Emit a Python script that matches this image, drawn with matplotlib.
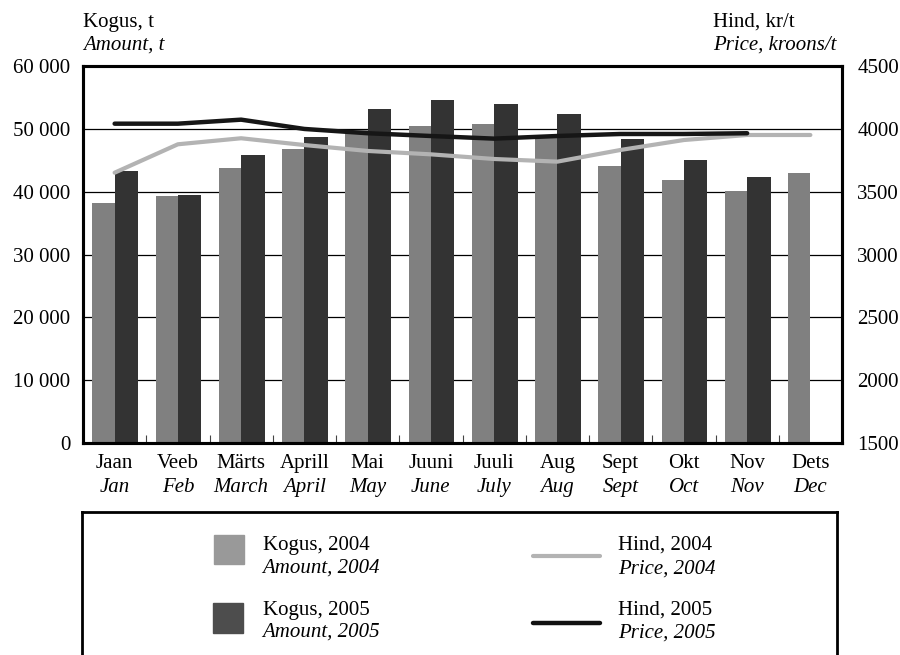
import matplotlib
matplotlib.use("Agg")
import matplotlib.pyplot as plt
import numpy as np
from matplotlib.ticker import FuncFormatter
from matplotlib.patches import Rectangle
from matplotlib.lines import Line2D

months_et = ["Jaan", "Veeb", "Märts", "Aprill", "Mai", "Juuni", "Juuli", "Aug", "Sept", "Okt", "Nov", "Dets"]
months_en = ["Jan", "Feb", "March", "April", "May", "June", "July", "Aug", "Sept", "Oct", "Nov", "Dec"]

amount_2004 = [38200, 39300, 43800, 46800, 49800, 50400, 50800, 48900, 44100, 41900, 40100, 43000]
amount_2005 = [43300, 39500, 45800, 48700, 53200, 54600, 54000, 52400, 48400, 45000, 42300]
price_2004 = [3651, 3877, 3925, 3871, 3824, 3797, 3760, 3739, 3832, 3911, 3951, 3951]
price_2005 = [4041, 4041, 4073, 3999, 3965, 3943, 3922, 3943, 3959, 3959, 3965]

left_ticks = [0, 10000, 20000, 30000, 40000, 50000, 60000]
right_ticks = [1500, 2000, 2500, 3000, 3500, 4000, 4500]

FONT = "Liberation Serif"
FS = 15
plt.rcParams["font.family"] = [FONT, "DejaVu Serif"]
plt.rcParams["font.size"] = FS

W, H = 900, 655
fig = plt.figure(figsize=(9, 6.55), dpi=100)

def fx(px):
    return px / W

def fy(py):
    return 1 - py / H

ax_l, ax_r, ax_t, ax_b = 83, 842, 66, 443
ax = fig.add_axes([fx(ax_l), fy(ax_b), (ax_r - ax_l) / W, (ax_b - ax_t) / H])

x = np.arange(len(months_et))
x05 = np.arange(len(amount_2005))
ax.bar(x - 0.35, amount_2004, width=0.35, align="edge", color="#808080", zorder=2)
ax.bar(x05, amount_2005, width=0.37, align="edge", color="#333333", zorder=2)

ax.set_xlim(-0.5, len(months_et) - 0.5)
ax.set_ylim(0, 60000)
ax.set_yticks(left_ticks)
ax.yaxis.set_major_formatter(FuncFormatter(lambda v, p: f"{int(v):,}".replace(",", " ")))
ax.tick_params(axis="y", length=0, pad=9, labelsize=FS)
ax.yaxis.grid(True, color="black", linewidth=0.9)
ax.set_axisbelow(True)

ax.set_xticks(x)
ax.set_xticklabels(months_et)
ax.tick_params(axis="x", which="major", length=0, pad=8, labelsize=FS)
ax.set_xticks(np.arange(0.5, len(months_et) - 1, 1.0), minor=True)
ax.tick_params(axis="x", which="minor", direction="in", length=6, width=0.8, color="#444444")

for i, lab in enumerate(months_en):
    ax.text(i, -0.117, lab, transform=ax.get_xaxis_transform(), ha="center", va="center",
            fontsize=FS, style="italic")

for s in ax.spines.values():
    s.set_linewidth(2.2)
    s.set_color("black")

ax2 = ax.twinx()
ax2.plot(x, price_2004, color="#b3b3b3", linewidth=3.0, zorder=3, solid_capstyle="round")
ax2.plot(x05, price_2005, color="#161616", linewidth=3.2, zorder=4, solid_capstyle="round")
ax2.set_ylim(1500, 4500)
ax2.set_yticks(right_ticks)
ax2.tick_params(axis="y", length=0, pad=11, labelsize=FS)
for s in ax2.spines.values():
    s.set_linewidth(2.2)
    s.set_color("black")

# axis titles
fig.text(fx(83), fy(22), "Kogus, t", ha="left", va="center", fontsize=FS)
fig.text(fx(83), fy(45), "Amount, t", ha="left", va="center", fontsize=FS, style="italic")
fig.text(fx(713), fy(22), "Hind, kr/t", ha="left", va="center", fontsize=FS)
fig.text(fx(713), fy(45), "Price, kroons/t", ha="left", va="center", fontsize=FS, style="italic")

# legend box (bottom edge runs past the image)
lg_l, lg_r, lg_t, lg_b = 82, 837, 512, 670
lax = fig.add_axes([fx(lg_l), fy(lg_b), (lg_r - lg_l) / W, (lg_b - lg_t) / H])
lax.set_xlim(lg_l, lg_r)
lax.set_ylim(lg_b, lg_t)
lax.set_xticks([])
lax.set_yticks([])
for s in lax.spines.values():
    s.set_linewidth(2.0)
    s.set_color("black")

lax.add_patch(Rectangle((214, 535), 30, 29, color="#999999"))
lax.add_patch(Rectangle((213, 603), 30, 30, color="#4d4d4d"))
lax.add_line(Line2D([533, 600], [556, 556], color="#b3b3b3", linewidth=3.0, solid_capstyle="round"))
lax.add_line(Line2D([533, 600], [623, 623], color="#111111", linewidth=3.2, solid_capstyle="round"))

lax.text(263, 545, "Kogus, 2004", ha="left", va="center", fontsize=FS)
lax.text(262, 568, "Amount, 2004", ha="left", va="center", fontsize=FS, style="italic")
lax.text(263, 610, "Kogus, 2005", ha="left", va="center", fontsize=FS)
lax.text(262, 632, "Amount, 2005", ha="left", va="center", fontsize=FS, style="italic")
lax.text(618, 545, "Hind, 2004", ha="left", va="center", fontsize=FS)
lax.text(618, 569, "Price, 2004", ha="left", va="center", fontsize=FS, style="italic")
lax.text(618, 610, "Hind, 2005", ha="left", va="center", fontsize=FS)
lax.text(618, 633, "Price, 2005", ha="left", va="center", fontsize=FS, style="italic")

fig.savefig("out.png", dpi=100)
